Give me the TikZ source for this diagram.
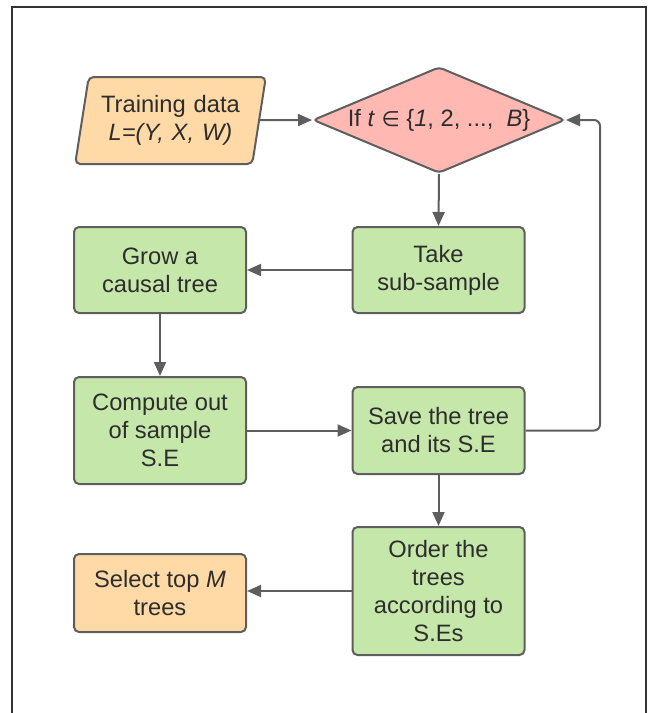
\documentclass[tikz,border=0pt]{standalone}
\usepackage{fontspec}
\setmainfont{Liberation Sans}
\newfontfamily\symfont{DejaVu Sans}
\usetikzlibrary{shapes.geometric,arrows.meta}
\definecolor{boxgreen}{RGB}{198,231,170}
\definecolor{boxorange}{RGB}{255,217,166}
\definecolor{boxred}{RGB}{255,185,178}
\definecolor{edge}{RGB}{94,94,94}
\definecolor{txt}{RGB}{45,45,45}
\tikzset{
  x=1pt, y=-1pt,
  base/.style={draw=edge, line width=2pt, text=txt, align=center,
    font=\fontsize{23.7}{28}\selectfont, inner sep=0pt},
  procbox/.style={base, rectangle, rounded corners=5pt, fill=boxgreen,
    minimum width=172pt},
  outbox/.style={base, rectangle, rounded corners=5pt, fill=boxorange,
    minimum width=172pt},
  decbox/.style={base, diamond, fill=boxred, rounded corners=4pt,
    minimum width=252pt, minimum height=106pt, aspect=2.38},
  databox/.style={base, trapezium, trapezium left angle=76, trapezium right angle=104,
    fill=boxorange, rounded corners=5pt, minimum height=87pt, text width=150pt,
    trapezium stretches=true, minimum width=191pt},
  conn/.style={draw=edge, line width=2pt,
    -{Triangle[length=14pt,width=12pt]}},
}
\begin{document}
\begin{tikzpicture}
\useasboundingbox (0,0) rectangle (651,713);
\draw[line width=1.5pt, draw=black!80] (12,713) -- (12,7) -- (646,7) -- (646,713);

\node[databox] (data) at (170.5,120.5) {Training data\\\itshape L=(Y, X, W)};
\node[decbox] (dec) at (439,120) {If \textit{t} {\symfont\fontsize{21}{28}\selectfont ∈} \{\textit{1}, 2, ..., \ \textit{B}\}};
\node[procbox, minimum height=86pt] (take) at (438.5,270) {Take\\sub-sample};
\node[procbox, minimum height=86pt] (grow) at (160,270) {Grow a\\causal tree};
\node[procbox, minimum height=107pt] (comp) at (160,430.5) {Compute out\\of sample\\S.E};
\node[procbox, minimum height=87pt] (save) at (438.5,430.5) {Save the tree\\and its S.E};
\node[procbox, minimum height=128pt] (order) at (438.5,591) {Order the\\trees\\according to\\S.Es};
\node[outbox, minimum height=78pt] (sel) at (160,593) {Select top \textit{M}\\trees};

\coordinate (loopb) at (600,430.5);
\coordinate (loopt) at (600,120);

\draw[conn] (data) -- (dec.west);
\draw[conn] (dec.south) -- (take.north);
\draw[conn] (take.west) -- (grow.east);
\draw[conn] (grow.south) -- (comp.north);
\draw[conn] (comp.east) -- (save.west);
\draw[conn] (save.south) -- (order.north);
\draw[conn] (order.west) -- (sel.east |- order.west);
\draw[conn, rounded corners=6pt] (save.east) -- (loopb) -- (loopt) -- (dec.east);
\end{tikzpicture}
\end{document}
